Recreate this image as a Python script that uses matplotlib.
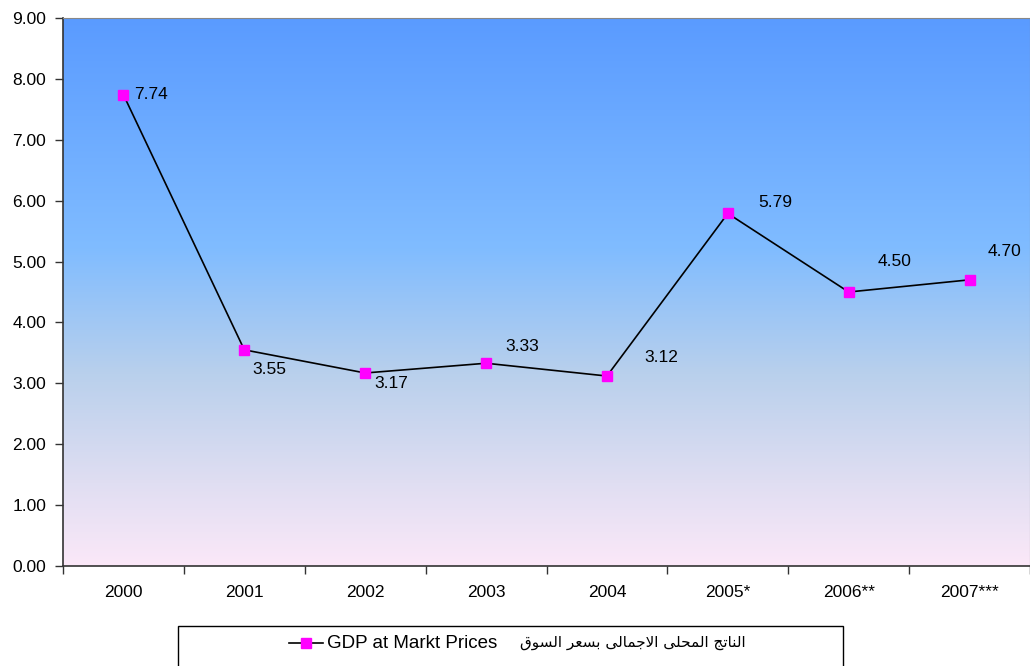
import numpy as np
import matplotlib
matplotlib.use("Agg")
import matplotlib.pyplot as plt
from matplotlib.colors import LinearSegmentedColormap
from matplotlib.lines import Line2D
from matplotlib.patches import Rectangle

years = ["2000", "2001", "2002", "2003", "2004", "2005*", "2006**", "2007***"]
gdp = [7.74, 3.55, 3.17, 3.33, 3.12, 5.79, 4.50, 4.70]
y_ticks = [0, 1, 2, 3, 4, 5, 6, 7, 8, 9]
series_en = "GDP at Markt Prices"
series_ar = "الناتج المحلى الاجمالى بسعر السوق"

# label offsets in pixels (Excel placed them a bit everywhere)
label_offsets = [(11, 0), (8, -20), (9, -11), (19, 17), (37, 19), (30, 11), (29, 30), (18, 28)]

FONTS = ["Liberation Sans", "DejaVu Sans"]
plt.rcParams["font.family"] = FONTS

# matplotlib does no Arabic shaping, so pick presentation forms by hand
# isolated, final, initial, medial
FORMS = {
    "ا": ("\uFE8D", "\uFE8E", None, None),
    "ب": ("\uFE8F", "\uFE90", "\uFE91", "\uFE92"),
    "ت": ("\uFE95", "\uFE96", "\uFE97", "\uFE98"),
    "ج": ("\uFE9D", "\uFE9E", "\uFE9F", "\uFEA0"),
    "ح": ("\uFEA1", "\uFEA2", "\uFEA3", "\uFEA4"),
    "ر": ("\uFEAD", "\uFEAE", None, None),
    "س": ("\uFEB1", "\uFEB2", "\uFEB3", "\uFEB4"),
    "ع": ("\uFEC9", "\uFECA", "\uFECB", "\uFECC"),
    "ق": ("\uFED5", "\uFED6", "\uFED7", "\uFED8"),
    "ل": ("\uFEDD", "\uFEDE", "\uFEDF", "\uFEE0"),
    "م": ("\uFEE1", "\uFEE2", "\uFEE3", "\uFEE4"),
    "ن": ("\uFEE5", "\uFEE6", "\uFEE7", "\uFEE8"),
    "و": ("\uFEED", "\uFEEE", None, None),
    "ى": ("\uFEEF", "\uFEF0", None, None),
}


def joins_forward(letter):
    return letter != "لا" and FORMS[letter][2] is not None


def shape_word(word):
    letters = []
    i = 0
    while i < len(word):
        if word[i] == "ل" and i + 1 < len(word) and word[i + 1] == "ا":
            letters.append("لا")
            i += 2
        else:
            letters.append(word[i])
            i += 1
    out = []
    for k, ch in enumerate(letters):
        prev_joins = k > 0 and joins_forward(letters[k - 1])
        if ch == "لا":
            out.append("\uFEFC" if prev_joins else "\uFEFB")
            continue
        iso, fin, ini, med = FORMS[ch]
        fwd = ini is not None and k < len(letters) - 1
        if prev_joins and fwd:
            out.append(med)
        elif prev_joins:
            out.append(fin)
        elif fwd:
            out.append(ini)
        else:
            out.append(iso)
    return "".join(reversed(out))


def shape_arabic(text):
    return " ".join(shape_word(w) for w in reversed(text.split()))


W, H = 1030, 666
fig = plt.figure(figsize=(W / 100, H / 100), dpi=100)
fig.patch.set_facecolor("white")
ax = fig.add_axes([63 / W, 100 / H, 967 / W, 548 / H])

x = np.arange(len(years))
ax.set_xlim(-0.5, len(years) - 0.5)
ax.set_ylim(0, 9)

grad = LinearSegmentedColormap.from_list(
    "bg",
    [(0.0, "#5a9bff"), (0.42, "#80bcff"), (0.65, "#b9d0ec"), (0.85, "#e0def2"), (1.0, "#fbe8f8")],
)
ax.imshow(np.linspace(0, 1, 256).reshape(-1, 1), cmap=grad, aspect="auto",
          extent=[-0.5, len(years) - 0.5, 0, 9], zorder=0)

ax.plot(x, gdp, color="black", linewidth=1.2, zorder=2)
ax.plot(x, gdp, linestyle="none", marker="s", markersize=7,
        markerfacecolor="#ff00ff", markeredgecolor="#ff00ff", zorder=3)

for xi, v, (dx, dy) in zip(x, gdp, label_offsets):
    ax.annotate(f"{v:.2f}", (xi, v), xytext=(dx, dy), textcoords="offset pixels",
                ha="left", va="center", fontsize=12.5, color="black")

ax.set_yticks(y_ticks)
ax.set_yticklabels([f"{t:.2f}" for t in y_ticks], fontsize=12.5)
ax.set_xticks(x)
ax.set_xticklabels(years, fontsize=12.5)
ax.set_xticks(np.arange(-0.5, len(years), 1), minor=True)
ax.tick_params(axis="x", which="major", length=0, pad=14)
ax.tick_params(axis="x", which="minor", length=6, width=1, color="#333333", direction="out")
ax.tick_params(axis="y", length=6, width=1, color="#333333", direction="out", pad=6)

for side in ["left", "bottom"]:
    ax.spines[side].set_color("#333333")
    ax.spines[side].set_linewidth(1.2)
ax.spines["top"].set_color("#888888")
ax.spines["right"].set_color("#888888")

# legend box at the bottom, drawn by hand (two text sizes)
fig.patches.append(Rectangle((178 / W, -0.01), 665 / W, 47 / H,
                             transform=fig.transFigure, facecolor="white",
                             edgecolor="black", linewidth=1.0))
ly = (666 - 643) / H
fig.lines.append(Line2D([289 / W, 323 / W], [ly, ly], transform=fig.transFigure,
                        color="black", linewidth=1.2))
fig.lines.append(Line2D([306 / W], [ly], transform=fig.transFigure, marker="s",
                        markersize=7, markerfacecolor="#ff00ff", markeredgecolor="#ff00ff"))
fig.text(327 / W, ly, series_en, ha="left", va="center", fontsize=13.5, family=FONTS)
fig.text(746 / W, ly, shape_arabic(series_ar), ha="right", va="center",
         fontsize=11, family=["DejaVu Sans"])

fig.savefig("out.png", dpi=100)
